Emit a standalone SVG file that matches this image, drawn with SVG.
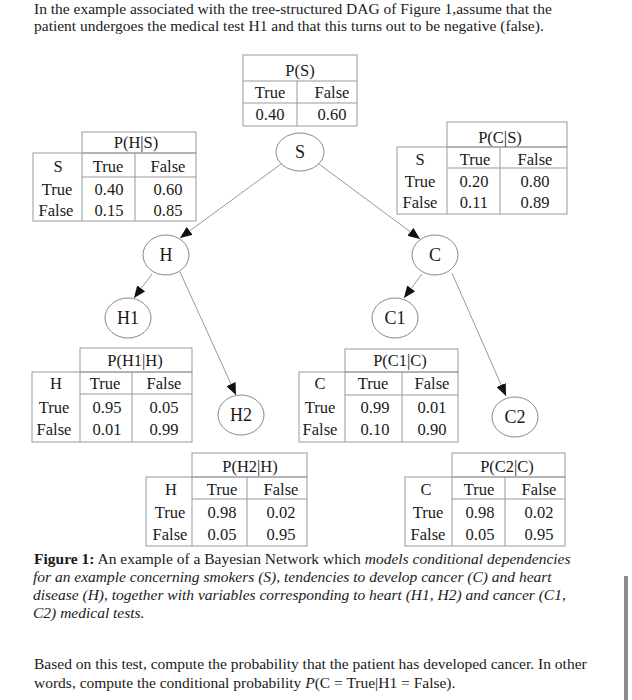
<svg xmlns="http://www.w3.org/2000/svg" width="632" height="700" viewBox="0 0 632 700">
<style>
text{font-family:"Liberation Serif","Times New Roman",serif;fill:#1a1a1a}
.p{font-size:15.5px}
.t{font-size:16.5px;text-anchor:middle}
.n{font-size:18px;text-anchor:middle}
.g{fill:none;stroke:#999;stroke-width:1}
.node ellipse{fill:#fff;stroke:#888;stroke-width:1}
.e{stroke:#999;stroke-width:1;fill:none}
.i{font-style:italic}
.b{font-weight:bold}
</style>
<defs>
<marker id="arr" viewBox="0 0 12 10" refX="12" refY="5" markerWidth="12" markerHeight="10" markerUnits="userSpaceOnUse" orient="auto"><path d="M0,0 L12,5 L0,10 z" fill="#111"/></marker>
</defs>
<rect width="632" height="700" fill="#fff"/>
<text class="p" x="34" y="14">In the example associated with the tree-structured DAG of Figure 1,assume that the</text>
<text class="p" x="34" y="31">patient undergoes the medical test H1 and that this turns out to be negative (false).</text>

<g id="connectors">
<line class="e" x1="281" y1="164" x2="180" y2="238" marker-end="url(#arr)"/>
<line class="e" x1="319" y1="164" x2="420" y2="239" marker-end="url(#arr)"/>
<line class="e" x1="152" y1="274" x2="134" y2="298" marker-end="url(#arr)"/>
<line class="e" x1="180" y1="272" x2="236" y2="395" marker-end="url(#arr)"/>
<line class="e" x1="422" y1="274" x2="404" y2="298" marker-end="url(#arr)"/>
<line class="e" x1="452" y1="273" x2="506" y2="396" marker-end="url(#arr)"/>
</g>

<g id="node-S" class="node"><ellipse cx="300" cy="152" rx="24" ry="19"/><text class="n" x="300" y="158">S</text></g>
<g id="node-H" class="node"><ellipse cx="166" cy="255" rx="23" ry="20"/><text class="n" x="166" y="261">H</text></g>
<g id="node-C" class="node"><ellipse cx="435" cy="255" rx="23" ry="20"/><text class="n" x="435" y="261">C</text></g>
<g id="node-H1" class="node"><ellipse cx="128" cy="318" rx="23" ry="20"/><text class="n" x="128" y="324">H1</text></g>
<g id="node-C1" class="node"><ellipse cx="395" cy="318" rx="23" ry="20"/><text class="n" x="395" y="324">C1</text></g>
<g id="node-H2" class="node"><ellipse cx="241" cy="415" rx="23" ry="20"/><text class="n" x="241" y="421">H2</text></g>
<g id="node-C2" class="node"><ellipse cx="515" cy="417" rx="23" ry="20"/><text class="n" x="515" y="423">C2</text></g>

<g id="table-PS">
<rect class="g" x="243" y="55" width="114" height="71"/>
<line class="g" x1="243" y1="81" x2="357" y2="81"/>
<line class="g" x1="243" y1="103" x2="357" y2="103"/>
<line class="g" x1="297" y1="81" x2="297" y2="126"/>
<text class="t" x="300" y="76">P(S)</text>
<text class="t" x="270" y="98">True</text><text class="t" x="332" y="98">False</text>
<text class="t" x="270" y="120">0.40</text><text class="t" x="332" y="120">0.60</text>
</g>

<g id="table-PHS">
<rect class="g" x="82" y="132" width="114" height="21"/>
<rect class="g" x="33" y="153" width="163" height="68"/>
<line class="g" x1="82" y1="153" x2="82" y2="221"/>
<line class="g" x1="135" y1="153" x2="135" y2="221"/>
<line class="g" x1="82" y1="177" x2="196" y2="177"/>
<text class="t" x="136" y="148">P(H|S)</text>
<text class="t" x="58" y="172">S</text><text class="t" x="108" y="172">True</text><text class="t" x="168" y="172">False</text>
<text class="t" x="57" y="195">True</text><text class="t" x="109" y="195">0.40</text><text class="t" x="168" y="195">0.60</text>
<text class="t" x="56" y="216">False</text><text class="t" x="109" y="216">0.15</text><text class="t" x="168" y="216">0.85</text>
</g>

<g id="table-PCS">
<rect class="g" x="447" y="122" width="120" height="25"/>
<rect class="g" x="397" y="147" width="170" height="67"/>
<line class="g" x1="447" y1="147" x2="447" y2="214"/>
<line class="g" x1="500" y1="147" x2="500" y2="214"/>
<line class="g" x1="447" y1="168" x2="567" y2="168"/>
<text class="t" x="500" y="143">P(C|S)</text>
<text class="t" x="420" y="165">S</text><text class="t" x="475" y="165">True</text><text class="t" x="535" y="165">False</text>
<text class="t" x="420" y="187">True</text><text class="t" x="474" y="187">0.20</text><text class="t" x="535" y="187">0.80</text>
<text class="t" x="420" y="208">False</text><text class="t" x="474" y="208">0.11</text><text class="t" x="535" y="208">0.89</text>
</g>

<g id="table-PH1H">
<rect class="g" x="80" y="348" width="112" height="24"/>
<rect class="g" x="32" y="372" width="160" height="70"/>
<line class="g" x1="80" y1="372" x2="80" y2="442"/>
<line class="g" x1="132" y1="372" x2="132" y2="442"/>
<line class="g" x1="80" y1="394" x2="192" y2="394"/>
<text class="t" x="135" y="366">P(H1|H)</text>
<text class="t" x="56" y="389">H</text><text class="t" x="105" y="389">True</text><text class="t" x="164" y="389">False</text>
<text class="t" x="54" y="413">True</text><text class="t" x="107" y="413">0.95</text><text class="t" x="164" y="413">0.05</text>
<text class="t" x="54" y="435">False</text><text class="t" x="107" y="435">0.01</text><text class="t" x="164" y="435">0.99</text>
</g>

<g id="table-PC1C">
<rect class="g" x="345" y="349" width="113" height="23"/>
<rect class="g" x="299" y="372" width="159" height="70"/>
<line class="g" x1="345" y1="372" x2="345" y2="442"/>
<line class="g" x1="402" y1="372" x2="402" y2="442"/>
<line class="g" x1="345" y1="395" x2="458" y2="395"/>
<text class="t" x="400" y="366">P(C1|C)</text>
<text class="t" x="320" y="389">C</text><text class="t" x="373" y="389">True</text><text class="t" x="432" y="389">False</text>
<text class="t" x="320" y="413">True</text><text class="t" x="375" y="413">0.99</text><text class="t" x="432" y="413">0.01</text>
<text class="t" x="320" y="435">False</text><text class="t" x="375" y="435">0.10</text><text class="t" x="432" y="435">0.90</text>
</g>

<g id="table-PH2H">
<rect class="g" x="192" y="453" width="115" height="24"/>
<rect class="g" x="146" y="477" width="161" height="69"/>
<line class="g" x1="192" y1="477" x2="192" y2="546"/>
<line class="g" x1="247" y1="477" x2="247" y2="546"/>
<line class="g" x1="192" y1="499" x2="307" y2="499"/>
<text class="t" x="250" y="472">P(H2|H)</text>
<text class="t" x="171" y="495">H</text><text class="t" x="222" y="495">True</text><text class="t" x="281" y="495">False</text>
<text class="t" x="170" y="518">True</text><text class="t" x="222" y="518">0.98</text><text class="t" x="281" y="518">0.02</text>
<text class="t" x="170" y="540">False</text><text class="t" x="222" y="540">0.05</text><text class="t" x="281" y="540">0.95</text>
</g>

<g id="table-PC2C">
<rect class="g" x="452" y="453" width="113" height="24"/>
<rect class="g" x="405" y="477" width="160" height="69"/>
<line class="g" x1="452" y1="477" x2="452" y2="546"/>
<line class="g" x1="505" y1="477" x2="505" y2="546"/>
<line class="g" x1="452" y1="499" x2="565" y2="499"/>
<text class="t" x="507" y="472">P(C2|C)</text>
<text class="t" x="426" y="495">C</text><text class="t" x="479" y="495">True</text><text class="t" x="539" y="495">False</text>
<text class="t" x="428" y="518">True</text><text class="t" x="480" y="518">0.98</text><text class="t" x="539" y="518">0.02</text>
<text class="t" x="428" y="540">False</text><text class="t" x="480" y="540">0.05</text><text class="t" x="539" y="540">0.95</text>
</g>

<text class="p" x="34" y="564"><tspan class="b">Figure 1:</tspan> An example of a Bayesian Network which <tspan class="i">models conditional dependencies</tspan></text>
<text class="p i" x="33" y="582">for an example concerning smokers (S), tendencies to develop cancer (C) and heart</text>
<text class="p i" x="33" y="600">disease (H), together with variables corresponding to heart (H1, H2) and cancer (C1,</text>
<text class="p i" x="33" y="618">C2) medical tests.</text>

<rect x="624" y="576" width="4" height="124" fill="#8a8a8a"/>

<text class="p" x="34" y="669">Based on this test, compute the probability that the patient has developed cancer. In other</text>
<text class="p" x="34" y="688">words, compute the conditional probability <tspan class="i">P</tspan>(C = True|H1 = False).</text>
</svg>
